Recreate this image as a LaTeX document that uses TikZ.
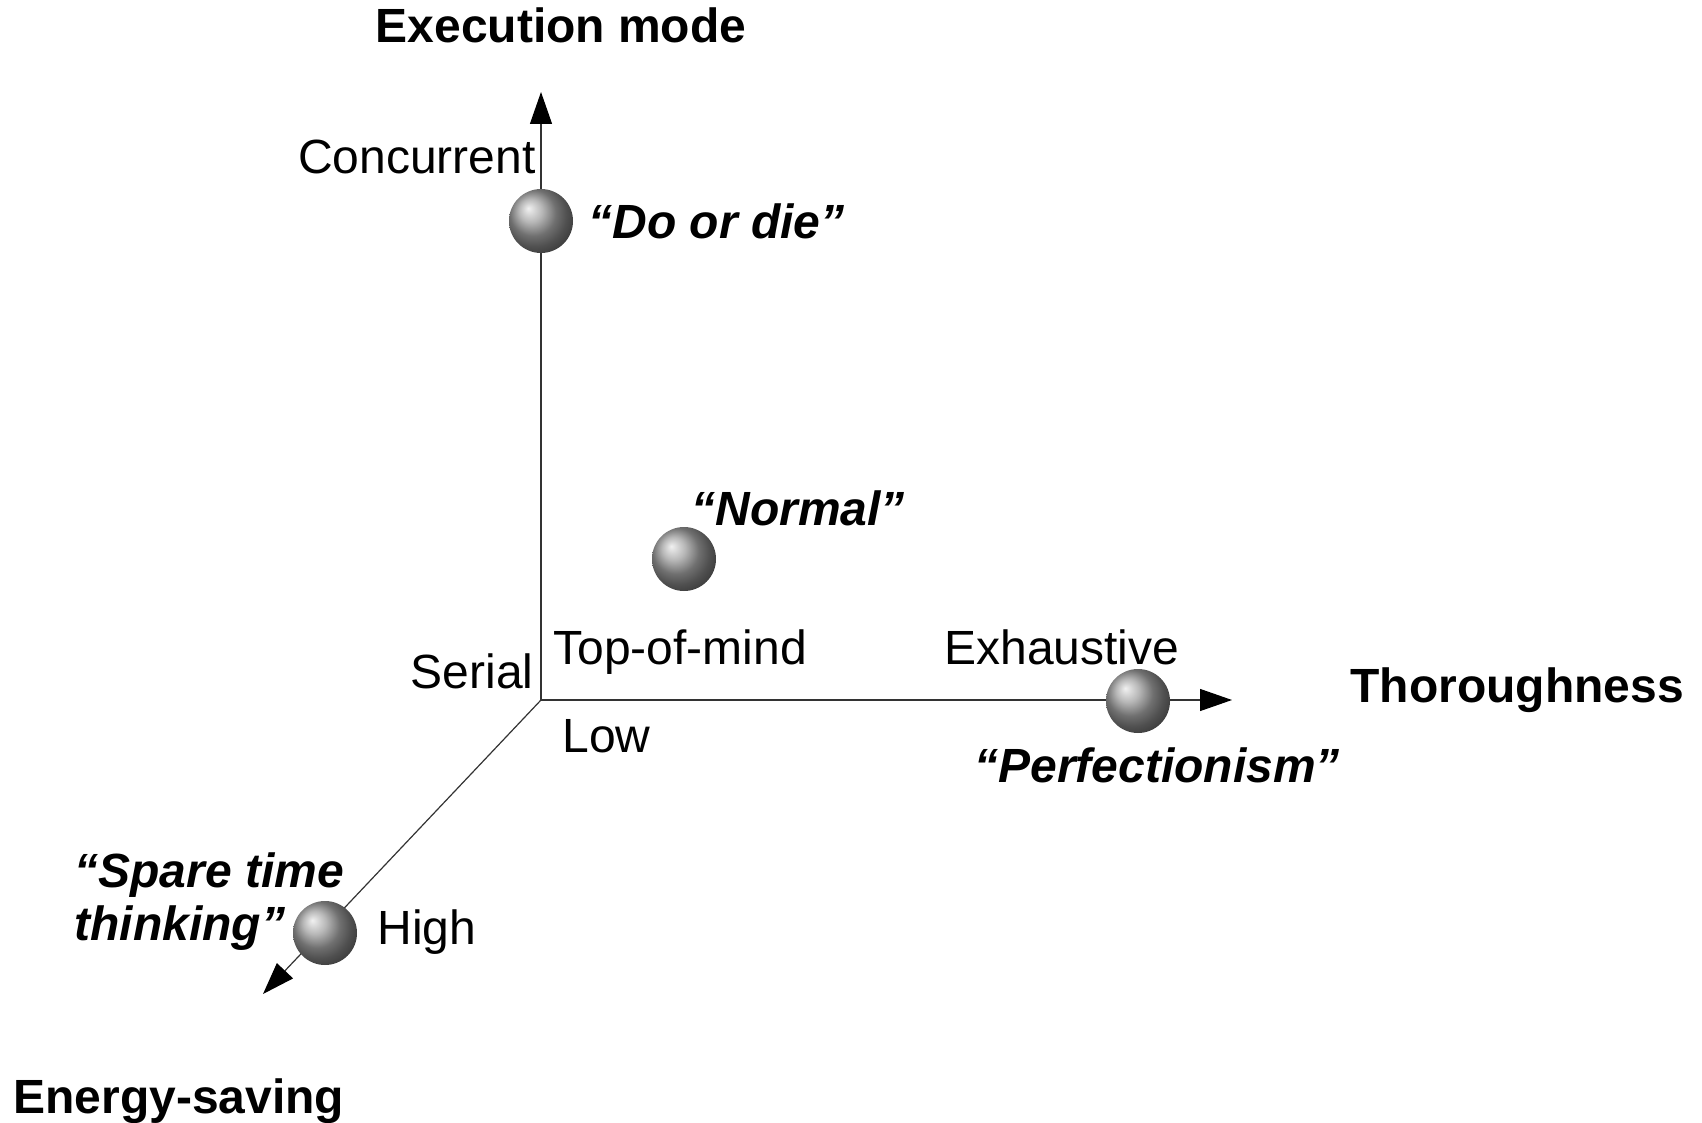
\documentclass[tikz,border=0pt]{standalone}
\usepackage{fontspec}
\setmainfont{Liberation Sans}
\usetikzlibrary{arrows.meta}
\begin{document}
\begin{tikzpicture}[x=0.5pt,y=-0.5pt,
  axis/.style={line width=0.6pt, draw=black!80, -{Triangle[length=16pt,width=11pt,color=black]}},
  lbl/.style={inner sep=0pt, font=\fontsize{24}{28}\selectfont},
  title/.style={inner sep=0pt, font=\fontsize{24}{28}\selectfont\bfseries},
  quote/.style={inner sep=0pt, font=\fontsize{24}{28}\selectfont\bfseries\itshape},
  ball/.style={circle, minimum size=32pt, inner sep=0pt, shading=ball, ball color=gray!75}]

\useasboundingbox (0,0) rectangle (1702,1123);

% axes
\coordinate (O) at (541,700);
\coordinate (yTip) at (541,92);
\coordinate (xTip) at (1232,700);
\coordinate (zTip) at (263,994);
\draw[axis] (O) -- (yTip);
\draw[axis] (O) -- (xTip);
\draw[axis] (O) -- (zTip);

% operating points
\node[ball] (doordie) at (541,221) {};
\node[ball] (normal) at (684,559) {};
\node[ball] (perfect) at (1138,701) {};
\node[ball] (spare) at (325,933) {};

% axis names
\node[title, anchor=base] (yname) at (561,43) {Execution mode};
\node[title, anchor=base west] (xname) at (1350,702) {Thoroughness};
\node[title, anchor=base west] (zname) at (13,1113) {Energy-saving};

% axis values
\node[lbl, anchor=base east] (concurrent) at (536,174) {Concurrent};
\node[lbl, anchor=base east] (serial) at (534,688) {Serial};
\node[lbl, anchor=base west] (topmind) at (553,664) {Top-of-mind};
\node[lbl, anchor=base west] (exhaustive) at (944,664) {Exhaustive};
\node[lbl, anchor=base west] (low) at (562,752) {Low};
\node[lbl, anchor=base west] (high) at (377,944) {High};

% mode names
\node[quote, anchor=base west] (qdo) at (588,239) {“Do or die”};
\node[quote, anchor=base west] (qnormal) at (691,525) {“Normal”};
\node[quote, anchor=base west] (qperfect) at (974,782) {“Perfectionism”};
\node[quote, anchor=base west] (qspare1) at (74,887) {“Spare time};
\node[quote, anchor=base west] (qspare2) at (74,940) {thinking”};
\end{tikzpicture}
\end{document}
